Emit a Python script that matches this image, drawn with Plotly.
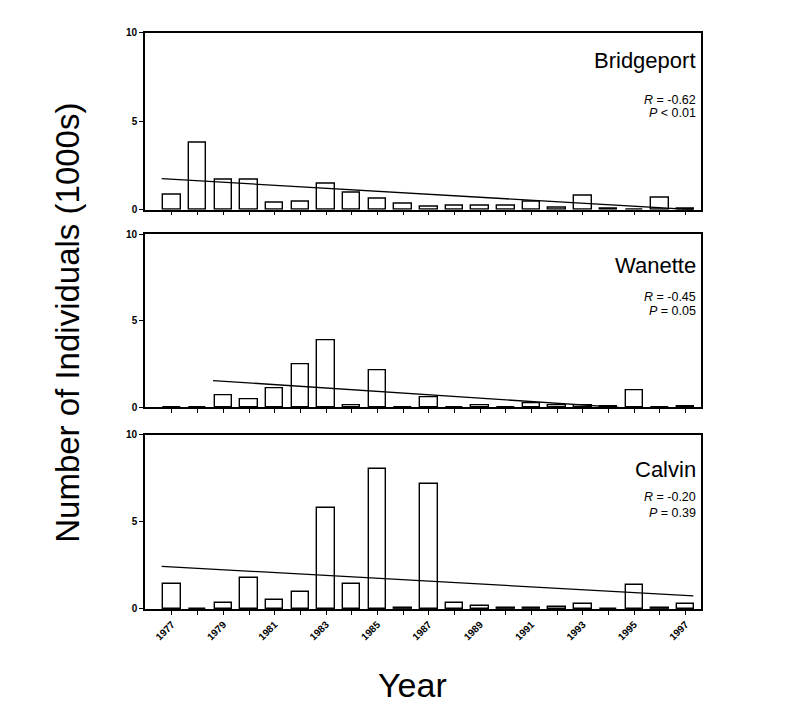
import plotly.graph_objects as go

years = [1977, 1978, 1979, 1980, 1981, 1982, 1983, 1984, 1985, 1986, 1987,
         1988, 1989, 1990, 1991, 1992, 1993, 1994, 1995, 1996, 1997]
label_years = [1977, 1979, 1981, 1983, 1985, 1987, 1989, 1991, 1993, 1995, 1997]

bridgeport = [0.85, 3.8, 1.7, 1.7, 0.4, 0.45, 1.45, 0.95, 0.65, 0.35, 0.15,
              0.2, 0.25, 0.2, 0.45, 0.1, 0.8, 0.05, 0.0, 0.7, 0.05]
wanette = [0.0, 0.0, 0.67, 0.46, 1.1, 2.5, 3.85, 0.1, 2.15, 0.0, 0.6,
           0.0, 0.1, 0.0, 0.25, 0.1, 0.1, 0.05, 1.0, 0.0, 0.05]
calvin = [1.45, 0.0, 0.35, 1.8, 0.5, 1.0, 5.8, 1.45, 8.05, 0.05, 7.2,
          0.35, 0.15, 0.05, 0.05, 0.1, 0.3, 0.0, 1.4, 0.05, 0.27]

# regression lines (start/end)
trend_bridgeport_x = [1976.6, 1997.3]
trend_bridgeport_y = [1.75, 0.0]
trend_wanette_x = [1978.6, 1994.4]
trend_wanette_y = [1.55, 0.0]
trend_calvin_x = [1976.6, 1997.3]
trend_calvin_y = [2.45, 0.75]

sites = ["Bridgeport", "Wanette", "Calvin"]
r_text = ["<i>R</i> = -0.62", "<i>R</i> = -0.45", "<i>R</i> = -0.20"]
p_text = ["<i>P</i> < 0.01", "<i>P</i> = 0.05", "<i>P</i> = 0.39"]

W, H = 805, 722
OFF = 8  # page body margin offset
panels_px = [(27, 207), (232, 408), (436, 613)]  # top, bottom pixel of each panel
x_px = (145, 701)

FONT = "Liberation Sans, Arial, sans-serif"


def px_x(x):
    return (x - OFF) / W


def px_y(y):
    return (H - (y - OFF)) / H


fig = go.Figure()
series = [bridgeport, wanette, calvin]
trends = [(trend_bridgeport_x, trend_bridgeport_y),
          (trend_wanette_x, trend_wanette_y),
          (trend_calvin_x, trend_calvin_y)]

ticktext = [str(y) if y in label_years else "" for y in years]

for i in range(3):
    xa = "x" if i == 0 else f"x{i+1}"
    ya = "y" if i == 0 else f"y{i+1}"
    fig.add_trace(go.Bar(x=years, y=series[i], width=0.68,
                         marker=dict(color="white", line=dict(color="black", width=1.4)),
                         xaxis=xa, yaxis=ya, showlegend=False))
    fig.add_trace(go.Scatter(x=trends[i][0], y=trends[i][1], mode="lines",
                             line=dict(color="black", width=1.3),
                             xaxis=xa, yaxis=ya, showlegend=False))
    top, bot = panels_px[i]
    dom_y = [px_y(bot), px_y(top)]
    xkey = "xaxis" if i == 0 else f"xaxis{i+1}"
    ykey = "yaxis" if i == 0 else f"yaxis{i+1}"
    fig.layout[xkey] = dict(
        domain=[px_x(x_px[0]), px_x(x_px[1])], anchor=ya,
        range=[1975.95, 1997.6], tickmode="array", tickvals=years,
        ticktext=ticktext if i == 2 else [""] * len(years),
        ticks="outside", ticklen=4, tickwidth=1.2, tickcolor="black",
        tickangle=-45, tickfont=dict(family=FONT, size=10, color="black", weight="bold"),
        showline=True, linecolor="black", linewidth=1.6, mirror=True,
        showgrid=False, zeroline=False)
    fig.layout[ykey] = dict(
        domain=dom_y, anchor=xa, range=[0, 10],
        tickmode="array", tickvals=[0, 5, 10],
        ticks="outside", ticklen=4, tickwidth=1.2, tickcolor="black",
        tickfont=dict(family=FONT, size=10, color="black", weight="bold"),
        showline=True, linecolor="black", linewidth=1.6, mirror=True,
        showgrid=False, zeroline=False)

    if i == 0:
        offs = [(28, 22, sites[i]), (68, 12.5, r_text[i]), (82, 12.5, p_text[i])]
    elif i == 1:
        offs = [(32, 22, sites[i]), (64, 12.5, r_text[i]), (78, 12.5, p_text[i])]
    else:
        offs = [(35, 22, sites[i]), (63, 12.5, r_text[i]), (79, 12.5, p_text[i])]
    for off, size, txt in offs:
        fig.add_annotation(text=txt, xref="paper", yref="paper",
                           x=px_x(698), y=px_y(top + off),
                           xanchor="right", yanchor="middle", showarrow=False,
                           font=dict(family=FONT, size=size, color="black"))

fig.add_annotation(text="Number of Individuals (1000s)", xref="paper", yref="paper",
                   x=px_x(68), y=px_y(322), textangle=-90,
                   xanchor="center", yanchor="middle", showarrow=False,
                   font=dict(family=FONT, size=33, color="black"))
fig.add_annotation(text="Year", xref="paper", yref="paper",
                   x=px_x(413), y=px_y(690),
                   xanchor="center", yanchor="middle", showarrow=False,
                   font=dict(family=FONT, size=34, color="black"))

fig.update_layout(width=W, height=H, margin=dict(l=0, r=0, t=0, b=0),
                  paper_bgcolor="white", plot_bgcolor="white",
                  bargap=0, font=dict(family=FONT))

fig.write_html("out.html")
